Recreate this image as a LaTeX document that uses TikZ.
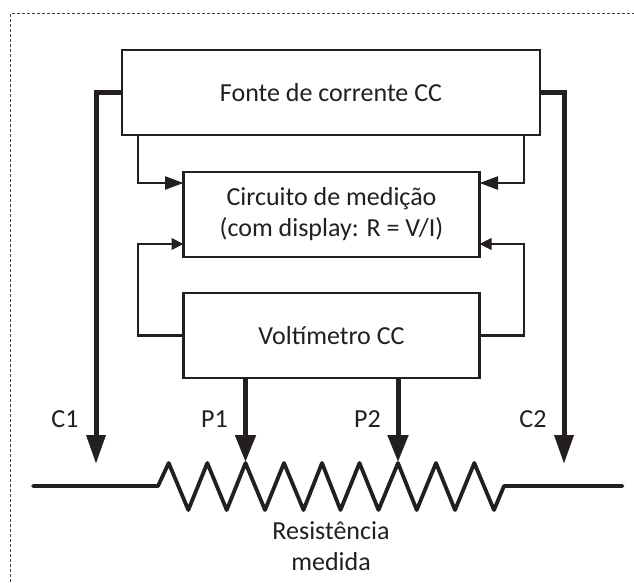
\documentclass[tikz,border=0pt]{standalone}
\usepackage{fontspec}
\setmainfont{Carlito}
\usetikzlibrary{arrows.meta}
\definecolor{ink}{HTML}{231F20}
\tikzset{
  x=1pt,y=-1pt,
  box/.style={draw=ink,line width=2.4pt,fill=white,inner sep=0pt,align=center,text=ink,font=\fontsize{26}{31}\selectfont},
  lab/.style={inner sep=0pt,align=center,text=ink,font=\fontsize{26}{31}\selectfont},
  thin wire/.style={draw=ink,line width=2.4pt,line join=miter},
  heavy wire/.style={draw=ink,line width=5pt,line join=miter},
  big tip/.style={-{Triangle[length=18.5pt,width=13pt]}},
  small tip/.style={-{Triangle[length=12pt,width=11.5pt]}},
  probe tip/.style={-{Triangle[length=27pt,width=20pt]}},
  curr tip/.style={-{Triangle[length=29pt,width=18.5pt]}},
}
\begin{document}
\begin{tikzpicture}
\useasboundingbox (0,0) rectangle (634,582);
\fill[white] (0,0) rectangle (634,582);
\draw[ink!85,line width=0.8pt,dash pattern=on 3.2pt off 1.8pt] (10.5,582) -- (10.5,13.5) -- (634,13.5);
\node[box,minimum width=418pt,minimum height=85pt] (fonte) at (331,92.5) {Fonte de corrente CC};
\node[box,minimum width=296pt,minimum height=85pt] (circ) at (331.5,214.5) {Circuito de medição\\(com display: R = V/I)};
\node[box,minimum width=296pt,minimum height=85pt] (volt) at (331.5,335.5) {Voltímetro CC};
\coordinate (cft) at (96,464);
\coordinate (cdt) at (564,464);
\coordinate (fl) at (138,135);
\coordinate (fr) at (524,135);
\coordinate (ml) at (183.5,183);
\coordinate (mr) at (479.5,183);
\coordinate (nl) at (183.5,244);
\coordinate (nr) at (479.5,244);
\coordinate (p1) at (245.5,462);
\coordinate (p2) at (398,462);
% heavy current leads
\draw[heavy wire,curr tip] (fonte.west) -- (96,92.5) -- (cft);
\draw[heavy wire,curr tip] (fonte.east) -- (564,92.5) -- (cdt);
% thin connections
\draw[thin wire,big tip] (fl) -- (fl |- ml) -- (ml);
\draw[thin wire,big tip] (fr) -- (fr |- mr) -- (mr);
\draw[thin wire,small tip] (volt.west) -- (138,335.5) -- (138,244) -- (nl);
\draw[thin wire,small tip] (volt.east) -- (524,335.5) -- (524,244) -- (nr);
% potential probes
\draw[heavy wire,probe tip] (volt.south -| p1) -- (p1);
\draw[heavy wire,probe tip] (volt.south -| p2) -- (p2);
% resistor
\draw[ink,line width=3.8pt,line cap=round,line join=round]
  (33,486) -- (158,486) -- (168.7,463) -- (188.3,510) -- (207.3,463) -- (226.7,510) -- (245.5,463)
  -- (265,510) -- (284,463) -- (303.5,510) -- (322,463) -- (340.5,510) -- (359.5,463) -- (378.5,510)
  -- (398,463) -- (416.7,510) -- (436,463) -- (455,510) -- (474.3,463) -- (494,510) -- (504,486) -- (622.5,486);
\node[lab] (c1) at (65,419) {C1};
\node[lab] (lp1) at (214.5,419) {P1};
\node[lab] (lp2) at (367.5,419) {P2};
\node[lab] (c2) at (533,419) {C2};
\node[lab] (res) at (331,546.5) {Resistência\\medida};
\end{tikzpicture}
\end{document}
